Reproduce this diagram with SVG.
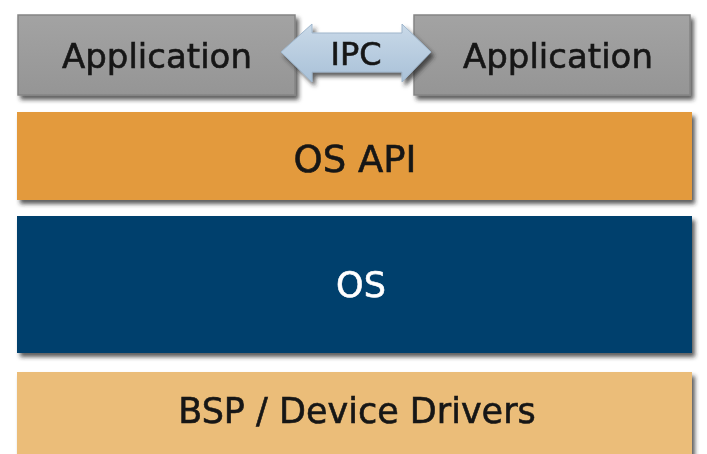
<svg xmlns="http://www.w3.org/2000/svg" width="707" height="454" viewBox="0 0 707 454">
<defs>
<filter id="sh" x="-5%" y="-20%" width="115%" height="150%">
<feDropShadow dx="3" dy="4" stdDeviation="2.2" flood-color="#2a2a2a" flood-opacity="0.75"/>
</filter>
<linearGradient id="gray" x1="0" y1="0" x2="0" y2="1">
<stop offset="0" stop-color="#a3a3a3"/>
<stop offset="1" stop-color="#959595"/>
</linearGradient>
<linearGradient id="blue" x1="0" y1="0" x2="0" y2="1">
<stop offset="0" stop-color="#c9d9e8"/>
<stop offset="1" stop-color="#a9c1d8"/>
</linearGradient>
</defs>
<style>
text{font-family:"DejaVu Sans","Liberation Sans",sans-serif;text-anchor:middle}
.app{fill:url(#gray);stroke:#858585;stroke-width:1.5}
.dark{fill:#161616;stroke:#161616;stroke-width:0.6}
.light{fill:#ffffff;stroke:#ffffff;stroke-width:0.6}
</style>
<rect width="707" height="454" fill="#ffffff"/>
<g id="app-left" filter="url(#sh)">
<rect class="app" x="18" y="15" width="277" height="80"/>
<text class="dark" x="157" y="68" font-size="34">Application</text>
</g>
<g id="app-right" filter="url(#sh)">
<rect class="app" x="414" y="15" width="276" height="80"/>
<text class="dark" x="558" y="68" font-size="34">Application</text>
</g>
<g id="connectors">
<g id="ipc" filter="url(#sh)">
<polygon points="281,52 312,24 312,33 402,33 402,24 431,52 402,82 402,72 312,72 312,82" fill="url(#blue)" stroke="#9fb6cc" stroke-width="1"/>
<text class="dark" x="356" y="65" font-size="32">IPC</text>
</g>
</g>
<g id="os-api" filter="url(#sh)">
<rect x="17" y="112" width="675" height="88" fill="#e39a3e"/>
<text class="dark" x="355" y="172" font-size="37">OS API</text>
</g>
<g id="os" filter="url(#sh)">
<rect x="17" y="216" width="675" height="137" fill="#033f6d"/>
<text class="light" x="361" y="297" font-size="35">OS</text>
</g>
<g id="bsp" filter="url(#sh)">
<rect x="17" y="372" width="675" height="90" fill="#ebbd79"/>
<text class="dark" x="357" y="423" font-size="35">BSP / Device Drivers</text>
</g>
</svg>
